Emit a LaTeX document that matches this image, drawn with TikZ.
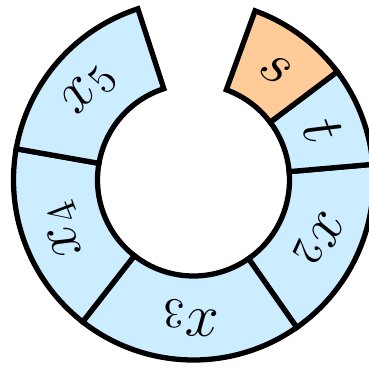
\documentclass[tikz,border=0pt]{standalone}
\usepackage{amsmath,amssymb}
\usepackage{xcolor}
\usepackage{tikz}
\usetikzlibrary{positioning,calc}
\definecolor{cellblue}{RGB}{204,236,255}
\definecolor{keyorange}{RGB}{255,204,153}
\newcommand{\rin}{0.96}
\newcommand{\rout}{1.80}
\tikzset{
  ring-cell/.style={draw=black, line width=1.5pt, fill=cellblue},
  key-cell/.style={ring-cell, fill=keyorange},
  cell-label/.style={font=\fontsize{18}{20}\selectfont, inner sep=0pt}
}

\begin{document}
\begin{tikzpicture}
% Frame of the picture
\useasboundingbox (-1.935,-1.89) rectangle (1.755,1.80);

% Blue cells of the ring: start angle / end angle / label / name
\foreach \a/\b/\lab/\nm in {5/-55/x_2/lx2, -55/-128/x_3/lx3, -128/-190/x_4/lx4, 170/108/x_5/lx5, 37/5/t/lt}{
  \draw[ring-cell] (\a:\rout) arc[start angle=\a, end angle=\b, radius=\rout]
    -- (\b:\rin) arc[start angle=\b, end angle=\a, radius=\rin] -- cycle;
  \pgfmathsetmacro{\mid}{(\a+\b)/2}
  \node[cell-label, rotate=\mid-90] (\nm) at (\mid:1.38) {$\lab$};
}

% Orange cell
\draw[key-cell] (70:\rout) arc[start angle=70, end angle=37, radius=\rout]
  -- (37:\rin) arc[start angle=37, end angle=70, radius=\rin] -- cycle;
\node[cell-label, rotate=53.5-90] (ls) at (53.5:1.38) {$s$};
\end{tikzpicture}
\end{document}
